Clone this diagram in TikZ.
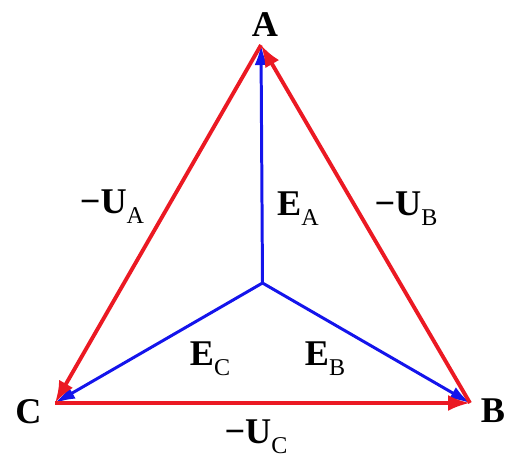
\documentclass[tikz,border=0pt]{standalone}
\usepackage{fontspec}
\setmainfont{Liberation Serif}
\usetikzlibrary{arrows.meta}
\definecolor{phred}{RGB}{235,25,35}
\definecolor{phblue}{RGB}{20,20,235}
\newcommand{\phsub}[1]{\raisebox{-6.2pt}{\fontsize{13.7}{15}\selectfont\mdseries #1}}
\tikzset{
  redvec/.style={-{Latex[length=0.44cm, width=0.32cm]}, color=phred, line width=2.2pt},
  bluevec/.style={-{Latex[length=0.4cm, width=0.26cm]}, color=phblue, line width=1.7pt},
  vlabel/.style={anchor=base, inner sep=0pt, font=\fontsize{20.6}{24}\selectfont\bfseries},
  plabel/.style={vlabel}
}

\begin{document}
\begin{tikzpicture}
  \useasboundingbox (0,0) rectangle (10.1,9.14);
  % phase points and neutral
  \coordinate (A) at (5.22, 8.24);
  \coordinate (B) at (9.40, 1.08);
  \coordinate (C) at (1.10, 1.08);
  \coordinate (N) at (5.25, 3.48);

  % phase voltages
  \draw[bluevec] (N) -- (A);
  \draw[bluevec] (N) -- (B);
  \draw[bluevec] (N) -- (C);

  % line voltages
  \draw[redvec] (A) -- (C);
  \draw[redvec] (C) -- (B);
  \draw[redvec] (B) -- (A);

  % point labels
  \node[plabel] (lA) at (5.30, 8.42) {A};
  \node[plabel] (lB) at (9.86, 0.70) {B};
  \node[plabel] (lC) at (0.57, 0.68) {C};

  % vector labels
  \node[vlabel] (lUA) at (2.24, 4.88) {−U\phsub{A}};
  \node[vlabel] (lEA) at (5.96, 4.84) {E\phsub{A}};
  \node[vlabel] (lUB) at (8.12, 4.84) {−U\phsub{B}};
  \node[vlabel] (lEC) at (4.20, 1.84) {E\phsub{C}};
  \node[vlabel] (lEB) at (6.50, 1.84) {E\phsub{B}};
  \node[vlabel] (lUC) at (5.12, 0.28) {−U\phsub{C}};
\end{tikzpicture}
\end{document}
